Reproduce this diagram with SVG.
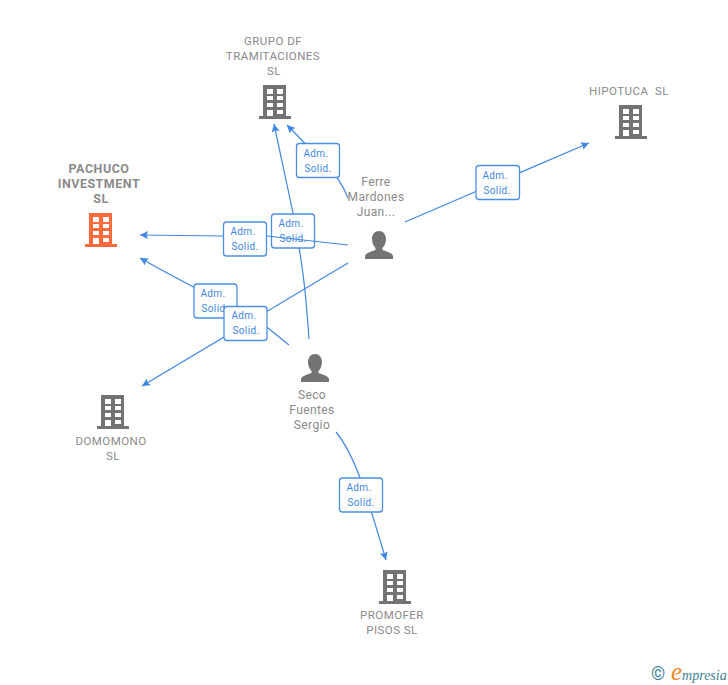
<svg xmlns="http://www.w3.org/2000/svg" xmlns:xlink="http://www.w3.org/1999/xlink" width="728" height="685" viewBox="0 0 728 685">
<style>
text{font-family:Roboto,"Liberation Sans",sans-serif;text-anchor:middle}
.co{font-size:11.500px;fill:#8a8a8a;letter-spacing:.45px;white-space:pre}
.pe{font-size:12px;fill:#8a8a8a;letter-spacing:.4px}
.main{font-size:12.500px;fill:#8a8a8a;font-weight:700;letter-spacing:.5px}
.lk{fill:none;stroke:#3f86e0;stroke-width:1.200;marker-end:url(#ah)}
.bx{fill:#fff;stroke:#4a8fe6;stroke-width:1.300}
.bt{font-size:10px;fill:#3f86e0;letter-spacing:.4px}
</style>
<defs>
<marker id="ah" markerUnits="userSpaceOnUse" markerWidth="10" markerHeight="10" refX="8" refY="4" orient="auto"><path d="M0 0L8 4L0 8L1.500 4Z" fill="#3f86e0"/></marker>
<symbol id="b" overflow="visible"><path fill-rule="evenodd" d="M4 0H27V31H32V34H0V31H4ZM8 4V9H14V4ZM18 4V9H24V4ZM8 11V15H14V11ZM18 11V15H24V11ZM8 18V22H14V18ZM18 18V22H24V18ZM8 25V31H14V25ZM18 25V29H24V25Z"/></symbol>
<symbol id="p" overflow="visible"><path d="M14 0C18 0 21 3.500 21 8C21 12 19.500 15 17.500 17V19C21 20.500 27 21.500 28 25V28H0V25C1 21.500 7 20.500 10.500 19V17C8.500 15 7 12 7 8C7 3.500 10 0 14 0Z" fill="#737373"/></symbol>
</defs>
<rect width="728" height="685" fill="#fff"/>
<g id="connectors">
<path class="lk" d="M348 198Q340 178 326 165L287 125"/>
<path class="lk" d="M309 339C306 295 303 265 293 213L274 124"/>
<path class="lk" d="M289 345L268 328C245 312 200 292 140 258"/>
<path class="lk" d="M348 263L142 386"/>
<path class="lk" d="M405 222L589 143"/>
<path class="lk" d="M336 432C355 455 365 490 386 560"/>
</g>
<g id="n-grupo"><use xlink:href="#b" href="#b" x="259" y="85" fill="#737373"/><text class="co"><tspan x="273" y="45">GRUPO DF</tspan><tspan x="273" y="60">TRAMITACIONES</tspan><tspan x="274" y="75">SL</tspan></text></g>
<g id="n-hipotuca"><use href="#b" x="615" y="105" fill="#737373"/><text class="co" x="629" y="95">HIPOTUCA  SL</text></g>
<g id="n-pachuco"><use href="#b" x="85" y="213" fill="#ff6a3c"/><text class="main"><tspan x="99" y="173">PACHUCO</tspan><tspan x="99" y="188">INVESTMENT</tspan><tspan x="101" y="203">SL</tspan></text></g>
<g id="n-domomono"><use href="#b" x="97" y="395" fill="#737373"/><text class="co"><tspan x="111" y="445">DOMOMONO</tspan><tspan x="113" y="460">SL</tspan></text></g>
<g id="n-promofer"><use href="#b" x="379" y="570" fill="#737373"/><text class="co"><tspan x="392" y="619">PROMOFER</tspan><tspan x="392" y="634">PISOS SL</tspan></text></g>
<g id="n-ferre"><use href="#p" x="365" y="231"/><text class="pe"><tspan x="376" y="186">Ferre</tspan><tspan x="376" y="201">Mardones</tspan><tspan x="376" y="216">Juan...</tspan></text></g>
<g id="n-seco"><use href="#p" x="301" y="354"/><text class="pe"><tspan x="312" y="399">Seco</tspan><tspan x="312" y="414">Fuentes</tspan><tspan x="312" y="429">Sergio</tspan></text></g>
<g id="l4"><rect class="bx" x="271.500" y="214" width="43" height="34" rx="3"/><text class="bt"><tspan x="291" y="227">Adm.</tspan><tspan x="293" y="242">Solid.</tspan></text></g>
<g id="connectors-front"><path class="lk" d="M348 245L267 236L223 236L140 235"/></g>
<g id="l1"><rect class="bx" x="296.500" y="143.500" width="43" height="34" rx="3"/><text class="bt"><tspan x="316" y="157">Adm.</tspan><tspan x="318" y="172">Solid.</tspan></text></g>
<g id="l2"><rect class="bx" x="476" y="165.500" width="43.500" height="34" rx="3"/><text class="bt"><tspan x="495" y="179">Adm.</tspan><tspan x="497" y="194">Solid.</tspan></text></g>
<g id="l3"><rect class="bx" x="223.500" y="222" width="43" height="34" rx="3"/><text class="bt"><tspan x="243" y="235">Adm.</tspan><tspan x="245" y="250">Solid.</tspan></text></g>
<g id="l5"><rect class="bx" x="194" y="284" width="43" height="34" rx="3"/><text class="bt"><tspan x="213" y="297">Adm.</tspan><tspan x="215" y="312">Solid.</tspan></text></g>
<g id="l6"><rect class="bx" x="224" y="306.500" width="43" height="34" rx="3"/><text class="bt"><tspan x="244" y="319">Adm.</tspan><tspan x="246" y="334">Solid.</tspan></text></g>
<g id="l7"><rect class="bx" x="339.500" y="478" width="43" height="34" rx="3"/><text class="bt"><tspan x="359" y="491">Adm.</tspan><tspan x="361" y="506">Solid.</tspan></text></g>
<g id="logo"><text x="658" y="680" style="font-size:18px;fill:#3d7f96">©</text><text x="671" y="680" style="font-family:'Liberation Serif',serif;font-style:italic;text-anchor:start"><tspan style="font-size:25px;fill:#f08a24">e</tspan><tspan style="font-size:14px;fill:#3d7f96">mpresia</tspan></text></g>
</svg>
